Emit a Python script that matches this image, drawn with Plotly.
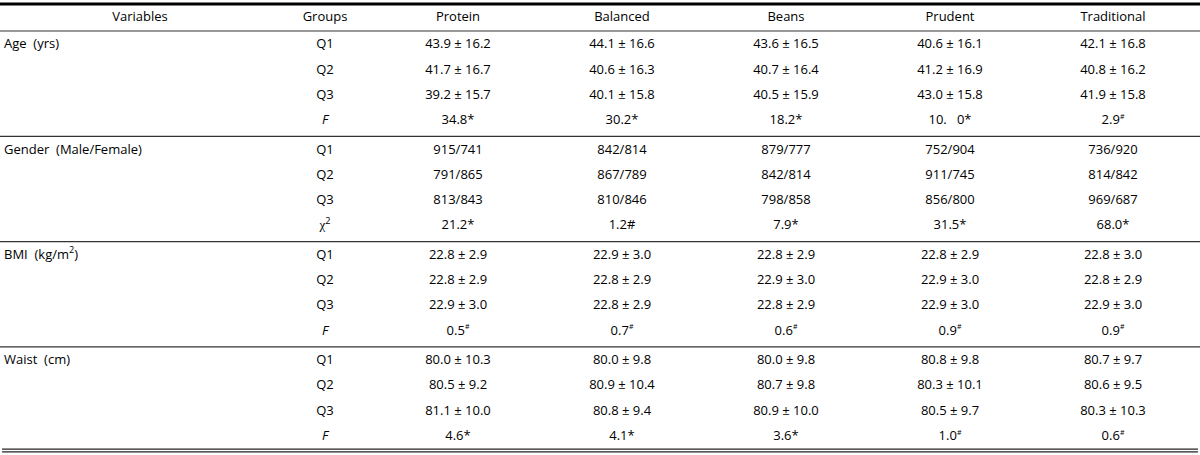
import plotly.graph_objects as go

# ---------------- data ----------------
columns = ["Protein", "Balanced", "Beans", "Prudent", "Traditional"]
variables = ["Age\u00a0\u00a0(yrs)", "Gender\u00a0\u00a0(Male/Female)",
             "BMI\u00a0\u00a0(kg/m<sup>2</sup>)", "Waist\u00a0\u00a0(cm)"]
group_labels = [
    ["Q1", "Q2", "Q3", "<i>F</i>"],
    ["Q1", "Q2", "Q3", "<span style='font-family:Liberation Serif'>χ</span><sup>2</sup>"],
    ["Q1", "Q2", "Q3", "<i>F</i>"],
    ["Q1", "Q2", "Q3", "<i>F</i>"],
]
H = "<sup><span style='font-size:7px'>#</span></sup>"

protein = ["43.9 ± 16.2", "41.7 ± 16.7", "39.2 ± 15.7", "34.8*",
           "915/741", "791/865", "813/843", "21.2*",
           "22.8 ± 2.9", "22.8 ± 2.9", "22.9 ± 3.0", "0.5" + H,
           "80.0 ± 10.3", "80.5 ± 9.2", "81.1 ± 10.0", "4.6*"]
balanced = ["44.1 ± 16.6", "40.6 ± 16.3", "40.1 ± 15.8", "30.2*",
            "842/814", "867/789", "810/846", "1.2#",
            "22.9 ± 3.0", "22.8 ± 2.9", "22.8 ± 2.9", "0.7" + H,
            "80.0 ± 9.8", "80.9 ± 10.4", "80.8 ± 9.4", "4.1*"]
beans = ["43.6 ± 16.5", "40.7 ± 16.4", "40.5 ± 15.9", "18.2*",
         "879/777", "842/814", "798/858", "7.9*",
         "22.8 ± 2.9", "22.9 ± 3.0", "22.8 ± 2.9", "0.6" + H,
         "80.0 ± 9.8", "80.7 ± 9.8", "80.9 ± 10.0", "3.6*"]
prudent = ["40.6 ± 16.1", "41.2 ± 16.9", "43.0 ± 15.8", "10.\u00a0\u00a0\u00a00*",
           "752/904", "911/745", "856/800", "31.5*",
           "22.8 ± 2.9", "22.9 ± 3.0", "22.9 ± 3.0", "0.9" + H,
           "80.8 ± 9.8", "80.3 ± 10.1", "80.5 ± 9.7", "1.0" + H]
traditional = ["42.1 ± 16.8", "40.8 ± 16.2", "41.9 ± 15.8", "2.9" + H,
               "736/920", "814/842", "969/687", "68.0*",
               "22.8 ± 3.0", "22.8 ± 2.9", "22.9 ± 3.0", "0.9" + H,
               "80.7 ± 9.7", "80.6 ± 9.5", "80.3 ± 10.3", "0.6" + H]
values = [protein, balanced, beans, prudent, traditional]

# ---------------- layout geometry ----------------
W, Hh = 1200, 455
FONT = "Open Sans"
FS = 13
TXT = "#000000"
col_x = [458, 622, 786, 950, 1113]
var_x = 4
grp_x = 325
var_hdr_x = 140
header_y = 18
first_line = 31
group_h = 105.3
row_off = 14
row_h = 25.3

def row_y(g, k):
    return first_line + g * group_h + row_off + k * row_h

fig = go.Figure()

# header
fig.add_trace(go.Scatter(
    x=[var_hdr_x, grp_x] + col_x, y=[header_y] * 7,
    text=["Variables", "Groups"] + columns, mode="text",
    textposition="middle center",
    textfont=dict(family=FONT, size=FS, color=TXT),
    hoverinfo="skip", showlegend=False))

# variables
fig.add_trace(go.Scatter(
    x=[var_x] * len(variables), y=[row_y(g, 0) for g in range(len(variables))],
    text=variables, mode="text", textposition="middle right",
    textfont=dict(family=FONT, size=FS, color=TXT),
    hoverinfo="skip", showlegend=False))

# groups
gx, gy, gt = [], [], []
for g, labs in enumerate(group_labels):
    for k, lab in enumerate(labs):
        gx.append(grp_x); gy.append(row_y(g, k)); gt.append(lab)
fig.add_trace(go.Scatter(
    x=gx, y=gy, text=gt, mode="text", textposition="middle center",
    textfont=dict(family=FONT, size=FS, color=TXT),
    hoverinfo="skip", showlegend=False))

# values
for c, vals in enumerate(values):
    ys = [row_y(i // 4, i % 4) for i in range(len(vals))]
    fig.add_trace(go.Scatter(
        x=[col_x[c]] * len(vals), y=ys, text=vals, mode="text",
        textposition="middle center",
        textfont=dict(family=FONT, size=FS, color=TXT),
        hoverinfo="skip", showlegend=False))

# rules
shapes = [dict(type="line", xref="x", yref="y", x0=0, x1=W, y0=4, y1=4,
               line=dict(color="#000000", width=3))]
for g in range(len(variables)):
    yl = first_line + g * group_h
    shapes.append(dict(type="line", xref="x", yref="y", x0=0, x1=W, y0=yl, y1=yl,
                       line=dict(color="#333333", width=1.2)))
yb = first_line + len(variables) * group_h - 3
shapes.append(dict(type="line", xref="x", yref="y", x0=2, x1=W - 2, y0=yb, y1=yb,
                   line=dict(color="#222222", width=1.2)))
shapes.append(dict(type="line", xref="x", yref="y", x0=2, x1=W - 2, y0=yb + 2.6, y1=yb + 2.6,
                   line=dict(color="#222222", width=1.2)))

fig.update_layout(
    width=W, height=Hh,
    margin=dict(l=0, r=0, t=0, b=0),
    paper_bgcolor="white", plot_bgcolor="white",
    xaxis=dict(range=[0, W], visible=False, fixedrange=True),
    yaxis=dict(range=[Hh, 0], visible=False, fixedrange=True),
    shapes=shapes,
)

fig.write_html(
    "out.html",
    config={"displayModeBar": False},
    post_script="document.body.style.margin='0';document.body.style.padding='0';"
                "document.body.style.overflow='hidden';",
)
